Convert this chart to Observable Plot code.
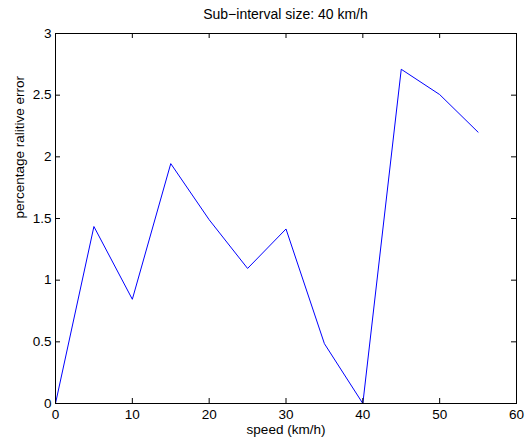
<!DOCTYPE html>
<html>
<head>
<meta charset="utf-8">
<script src="https://cdn.jsdelivr.net/npm/d3@7"></script>
<script src="https://cdn.jsdelivr.net/npm/@observablehq/plot@0.6"></script>
<style>
  body { margin: 0; background: #fff; font-family: "Liberation Sans", Arial, sans-serif; }
  #wrap { position: relative; width: 532px; height: 443px; }
  #title { position: absolute; left: 0; top: 6px; width: 571px; text-align: center; font-size: 14px; line-height: 16px; color: #000; }
</style>
</head>
<body>
<div id="wrap">
  <div id="chart"></div>
  <div id="title">Sub−interval size: 40 km/h</div>
</div>
<script>
const speed = [0, 5, 10, 15, 20, 25, 30, 35, 40, 45, 50, 55];
const error = [0, 1.435, 0.845, 1.945, 1.49, 1.095, 1.415, 0.485, 0, 2.71, 2.505, 2.2];
const xTicks = [0, 10, 20, 30, 40, 50, 60];
const yTicks = [0, 0.5, 1, 1.5, 2, 2.5, 3];
const yTickLabels = ["0", "0.5", "1", "1.5", "2", "2.5", "3"];
const xDomain = [0, 60];
const yDomain = [0, 3];

const data = speed.map((s, i) => ({speed: s, error: error[i]}));

const W = 532, H = 443;
const mL = 55, mR = 16, mT = 33, mB = 40;
const fw = W - mL - mR, fh = H - mT - mB;
const tk = 5;

const chart = Plot.plot({
  width: W,
  height: H,
  marginLeft: mL,
  marginRight: mR,
  marginTop: mT,
  marginBottom: mB,
  style: {fontFamily: "Liberation Sans, Arial, sans-serif", fontSize: "13px", color: "#000", background: "#fff"},
  x: {domain: xDomain},
  y: {domain: yDomain},
  marks: [
    Plot.line(data, {x: "speed", y: "error", stroke: "#0000ff", strokeWidth: 1}),
    Plot.tickX(xTicks, {x: d => d, insetTop: fh - tk, stroke: "#000", strokeWidth: 1}),
    Plot.tickX(xTicks, {x: d => d, insetBottom: fh - tk, stroke: "#000", strokeWidth: 1}),
    Plot.tickY(yTicks, {y: d => d, insetRight: fw - tk, stroke: "#000", strokeWidth: 1}),
    Plot.tickY(yTicks, {y: d => d, insetLeft: fw - tk, stroke: "#000", strokeWidth: 1}),
    Plot.frame({stroke: "#000", strokeWidth: 1}),
    Plot.axisX({ticks: xTicks, tickSize: 0, tickPadding: 6, label: null, fontSize: 13.5}),
    Plot.axisY({ticks: yTicks, tickSize: 0, tickPadding: 4, tickFormat: (d, i) => yTickLabels[i], label: null, fontSize: 13.5}),
    Plot.text(["speed (km/h)"], {frameAnchor: "bottom", dy: 30, fontSize: 13.5, text: d => d}),
    Plot.text(["percentage ralitive error"], {frameAnchor: "left", dx: -36, rotate: -90, fontSize: 13.5, text: d => d})
  ]
});
document.getElementById("chart").appendChild(chart);
</script>
</body>
</html>
